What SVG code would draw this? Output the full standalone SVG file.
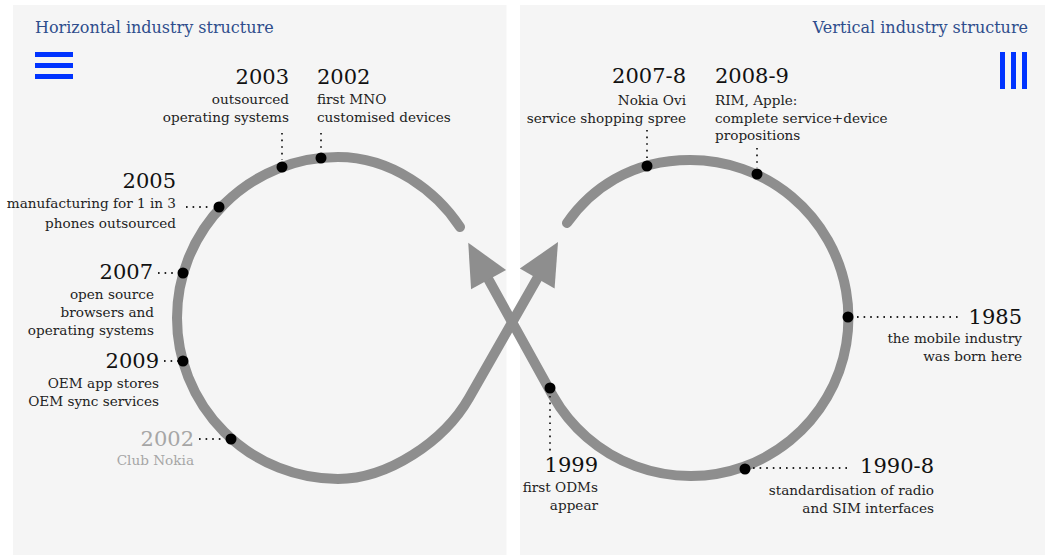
<svg xmlns="http://www.w3.org/2000/svg" width="1045" height="556" viewBox="0 0 1045 556">
<style>
.panel{fill:#f5f5f5}
.title{font-family:"DejaVu Serif","Liberation Serif",serif;font-size:16px;fill:#2e4d8c}
.yr{font-family:"DejaVu Serif","Liberation Serif",serif;font-size:21px;fill:#111}
.lb{font-family:"DejaVu Serif","Liberation Serif",serif;font-size:13.6px;fill:#222}
.muted{fill:#a6a6a6}
.end{text-anchor:end}
.dot{fill:#000}
.lead{stroke:#222;stroke-width:1.8;stroke-dasharray:1.6 5;fill:none}
.loop{fill:none;stroke:#8e8e8e;stroke-width:10;stroke-linecap:round;marker-end:url(#ah)}
.icon{fill:#0033ff}
</style>
<defs>
<marker id="ah" markerUnits="userSpaceOnUse" viewBox="-15 -22 50 44" markerWidth="50" markerHeight="44" refX="0" refY="0" orient="auto" overflow="visible"><polygon points="30,0 -12,-20 -12,20" fill="#8e8e8e"/></marker>
</defs>
<rect width="1045" height="556" fill="#ffffff"/>
<rect class="panel" x="13" y="5" width="493.5" height="550"/>
<rect class="panel" x="520" y="5" width="525" height="550"/>

<g id="horizontal-title">
<text class="title" x="35" y="33">Horizontal industry structure</text>
<rect class="icon" x="35" y="52" width="38" height="5"/>
<rect class="icon" x="35" y="63" width="38" height="5"/>
<rect class="icon" x="35" y="74" width="38" height="5"/>
</g>
<g id="vertical-title">
<text class="title end" x="1028" y="33">Vertical industry structure</text>
<rect class="icon" x="1000" y="52" width="5" height="37"/>
<rect class="icon" x="1011" y="52" width="5" height="37"/>
<rect class="icon" x="1022" y="52" width="5" height="37"/>
</g>

<g id="connectors">
<path class="loop" d="M 460 227 C 437 192, 392 157, 338 157 A 161 161 0 0 0 338 479 C 388 479, 444 441.5, 469 398 L 543.15 268.07"/>
<path class="loop" d="M 567 223 C 590 190, 630 160, 690 160 A 158 158 0 1 1 553 396 L 482.76 269.1"/>
</g>

<g id="n2003">
<line class="lead" x1="282" y1="133" x2="282" y2="160"/>
<circle class="dot" cx="282" cy="167" r="5.5"/>
<text class="yr end" x="289" y="84">2003</text>
<text class="lb end"><tspan x="289" y="104">outsourced</tspan><tspan x="289" y="122">operating systems</tspan></text>
</g>
<g id="n2002mno">
<line class="lead" x1="321" y1="133" x2="321" y2="151"/>
<circle class="dot" cx="321" cy="158" r="5.5"/>
<text class="yr" x="317" y="84">2002</text>
<text class="lb"><tspan x="317" y="104">first MNO</tspan><tspan x="317" y="122">customised devices</tspan></text>
</g>
<g id="n2005">
<line class="lead" x1="186" y1="207" x2="212" y2="207"/>
<circle class="dot" cx="219" cy="207" r="5.5"/>
<text class="yr end" x="176" y="188">2005</text>
<text class="lb end"><tspan x="176" y="208">manufacturing for 1 in 3</tspan><tspan x="176" y="228">phones outsourced</tspan></text>
</g>
<g id="n2007">
<line class="lead" x1="158" y1="273" x2="177" y2="273"/>
<circle class="dot" cx="183" cy="273" r="5.5"/>
<text class="yr end" x="153" y="279">2007</text>
<text class="lb end"><tspan x="154" y="299">open source</tspan><tspan x="154" y="317">browsers and</tspan><tspan x="154" y="335">operating systems</tspan></text>
</g>
<g id="n2009">
<line class="lead" x1="164" y1="361" x2="178" y2="361"/>
<circle class="dot" cx="183" cy="361" r="5.5"/>
<text class="yr end" x="159" y="368">2009</text>
<text class="lb end"><tspan x="159" y="388">OEM app stores</tspan><tspan x="159" y="406">OEM sync services</tspan></text>
</g>
<g id="n2002club">
<line class="lead" x1="199" y1="439" x2="225" y2="439"/>
<circle class="dot" cx="231" cy="439" r="5.5"/>
<text class="yr end muted" x="194" y="446">2002</text>
<text class="lb end muted" x="194" y="465">Club Nokia</text>
</g>

<g id="n2007-8">
<line class="lead" x1="647" y1="130" x2="647" y2="159"/>
<circle class="dot" cx="647" cy="166" r="5.5"/>
<text class="yr end" x="686" y="83">2007-8</text>
<text class="lb end"><tspan x="686" y="105">Nokia Ovi</tspan><tspan x="686" y="123">service shopping spree</tspan></text>
</g>
<g id="n2008-9">
<line class="lead" x1="757" y1="148" x2="757" y2="168"/>
<circle class="dot" cx="757" cy="174" r="5.5"/>
<text class="yr" x="715" y="83">2008-9</text>
<text class="lb"><tspan x="715" y="105">RIM, Apple:</tspan><tspan x="715" y="123">complete service+device</tspan><tspan x="715" y="140">propositions</tspan></text>
</g>
<g id="n1985">
<line class="lead" x1="857" y1="317" x2="962" y2="317"/>
<circle class="dot" cx="848" cy="317" r="5.5"/>
<text class="yr end" x="1022" y="324">1985</text>
<text class="lb end"><tspan x="1022" y="343">the mobile industry</tspan><tspan x="1022" y="361">was born here</tspan></text>
</g>
<g id="n1999">
<line class="lead" x1="550" y1="396" x2="550" y2="452"/>
<circle class="dot" cx="550" cy="388" r="5.5"/>
<text class="yr end" x="598" y="472">1999</text>
<text class="lb end"><tspan x="598" y="492">first ODMs</tspan><tspan x="598" y="510">appear</tspan></text>
</g>
<g id="n1990-8">
<line class="lead" x1="753" y1="468" x2="852" y2="468"/>
<circle class="dot" cx="745" cy="469" r="5.5"/>
<text class="yr end" x="934" y="473">1990-8</text>
<text class="lb end"><tspan x="934" y="495">standardisation of radio</tspan><tspan x="934" y="513">and SIM interfaces</tspan></text>
</g>
</svg>
